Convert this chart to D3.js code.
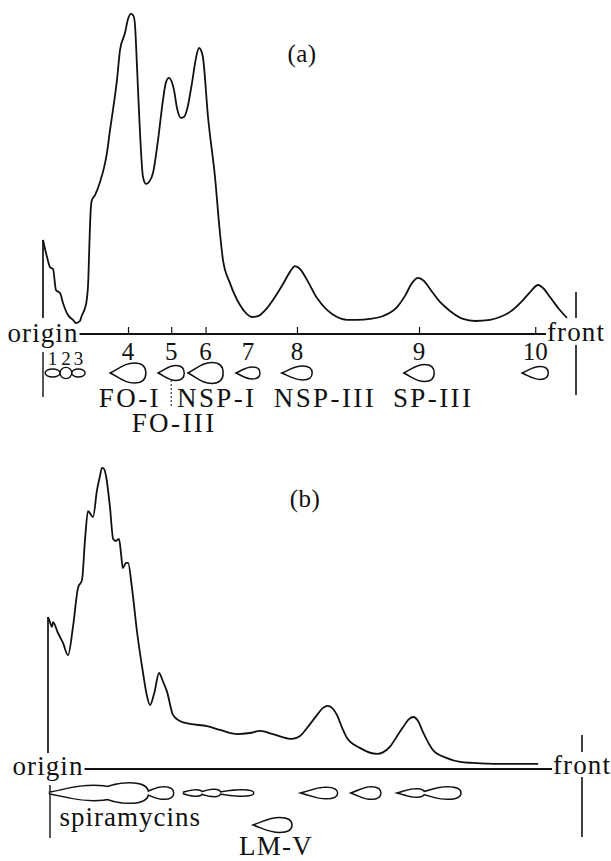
<!DOCTYPE html>
<html><head><meta charset="utf-8">
<script src="https://cdn.jsdelivr.net/npm/d3@7"></script>
<style>body{margin:0;background:#fff}svg{display:block}</style>
</head><body>
<svg id="c" width="611" height="861"></svg>
<script>
// ---------- DATA ----------
// Panel (a): densitogram, distance from origin (% of origin→front) and absorbance (arb. units)
const distA = [0,0.75,1.31,1.88,2.44,3.19,3.75,4.69,5.63,6.19,6.94,7.2,7.88,8.2,8.5,8.69,8.95,9.14,9.76,10.7,
  11.44,12.0,12.57,13.13,13.88,14.45,15.38,15.95,16.51,16.98,17.26,17.64,18.2,18.76,19.32,19.89,20.64,21.58,22.51,23.08,
  23.64,24.1,24.58,25.14,25.89,26.45,27.0,27.95,28.7,29.27,29.64,30.0,30.96,32.27,33.2,33.77,35.08,36.96,38.27,39.21,
  40.34,42.03,43.53,45.03,46.34,47.28,48.22,49.53,51.41,53.28,55.16,57.04,58.91,61.35,63.79,66.42,67.92,69.23,70.36,71.48,
  72.61,74.48,76.36,78.8,81.05,83.86,85.74,87.62,90.06,91.56,92.87,94.0,95.12,96.81,98.31];
const absA = [29.1,23.75,20.6,20.0,13.4,12.5,9.4,5.6,4.1,3.1,3.75,5.1,7.8,10.3,16.6,27.0,38.4,41.3,43.1,47.2,
  51.6,56.3,63.4,69.7,79.1,88.4,93.75,98.1,99.7,99.1,96.25,83.1,62.5,48.75,46.6,47.2,50,60.3,72.8,78.4,
  79.7,78.75,75.9,70.3,67.2,67.5,69.7,78.1,85.9,89.1,88.4,86.25,67.5,48.75,31.25,22.8,15.6,8.75,5.9,5.0,
  5.3,7.8,11.25,15.3,19.1,20.9,20.0,16.6,10.9,7.2,5.0,4.1,4.1,4.4,5.3,8.1,11.6,15.6,17.2,16.25,
  13.75,9.7,6.9,4.4,3.75,4.1,5.0,6.6,10.3,13.1,15.0,13.75,11.25,7.5,4.7];

// Panel (b)
const distB = [0,0.37,0.75,0.94,1.87,2.81,3.75,4.68,5.62,6.37,6.93,7.49,8.43,9.18,9.74,10.1,10.5,10.9,11.6,12.2,
  12.7,13.3,13.7,14.0,14.6,15.0,15.7,16.7,17.8,18.5,19.1,19.9,20.8,21.5,22.3,23.4,24.7,26.6,29.8,32.2,
  35.4,37.8,39.7,42.1,45.7,47.2,48.5,50.4,51.5,52.4,53.4,54.1,55.1,56.0,58.4,61.6,64.0,65.5,66.5,67.6,
  68.4,69.3,70.2,72.1,74.7,77.2,79.6,84.6,91.8];
const absB = [47.5,45.9,44.4,45.9,42.5,39.4,35.6,44.4,56.6,59.1,71.6,80.6,78.75,87.2,91.6,94.1,93.75,91.25,81.9,71.9,
  71.25,71.9,66.9,62.8,64.4,64.4,56.9,42.5,30,23.1,20,23.75,30,27.5,24.1,16.9,15,14.1,13.4,12.2,
  10.9,11.25,11.9,10.9,9.4,10.3,12.8,16.9,19.1,19.7,18.75,16.9,12.8,9.7,6.6,4.7,6.9,10.6,13.1,15.6,
  16.25,15.0,11.6,5.9,3.4,2.2,1.9,1.6,1.6];

// TLC spots: [start, end, width] in the same distance units
const spotNumA = ["1","2","3","4","5","6","7","8","9","10"];
const spotsA = [[0.4,3.2,1.5],[3.2,5.4,2.1],[5.4,7.9,1.5],[12.6,19.3,3.75],[21.6,26.5,2.8],
  [27.2,33.8,3.9],[36.2,40.7,2.25],[44.8,50.5,2.6],[67.7,73.4,3.2],[89.9,94.8,2.4]];
const ellipseSpotsA = ["1","2","3"];
const tickSpotsA = ["4","5","6","8","9","10"];
const namesA = ["FO-I","NSP-I","NSP-III","SP-III","FO-III"];
const namePosA = [16.3,32.6,52.9,73.2,24.6];
const nameRowA = [0,0,0,0,1];

const spotsB = [[0.19,12.5,2.6],[7.9,18.7,3.6],[18.2,23.4,2.1],[25.3,28.8,0.94],[28.5,32.2,1.1],[31.8,38.4,0.94],
  [47.8,54.1,1.9],[57.1,62.2,2.1],[65.9,70.4,1.3],[69.9,77.2,2.1]];
const spotLMV = [38.4,45.7,2.8];
const namesB = ["spiramycins","LM-V"];
const namePosB = [15.4,42.7];

// ---------- DRAW ----------
const svg = d3.select("#c");
const serif = "'Liberation Serif','Times New Roman',serif";

function drop(x0,x1,cy,h){
  const w=x1-x0, r=h/2, p=d3.path();
  p.moveTo(x0,cy);
  p.bezierCurveTo(x0+0.3*w,cy-0.55*r, x0+0.42*w,cy-r, x0+0.68*w,cy-r);
  p.bezierCurveTo(x0+0.9*w,cy-r, x1,cy-0.6*r, x1,cy);
  p.bezierCurveTo(x1,cy+0.6*r, x0+0.9*w,cy+r, x0+0.68*w,cy+r);
  p.bezierCurveTo(x0+0.42*w,cy+r, x0+0.3*w,cy+0.55*r, x0,cy);
  p.closePath();
  return p.toString();
}
function txt(x,y,s,size,ls,anchor){
  return svg.append("text").attr("x",x).attr("y",y).text(s)
    .attr("font-family",serif).attr("font-size",size).attr("fill","#111")
    .attr("text-anchor",anchor||"middle").style("letter-spacing",ls+"px");
}
function vline(x,y1,y2,w,dash){
  const l=svg.append("line").attr("x1",x).attr("x2",x).attr("y1",y1).attr("y2",y2)
    .attr("stroke","#111").attr("stroke-width",w||1.5);
  if(dash) l.attr("stroke-dasharray",dash);
  return l;
}

function panel(o){
  const x=o.x, y=o.y;
  const pts=o.dist.map((d,i)=>[x(d),y(o.abs[i])]);
  svg.append("path").attr("d",d3.line().curve(d3.curveMonotoneX)(pts))
    .attr("fill","none").attr("stroke","#111").attr("stroke-width",1.8).attr("stroke-linejoin","round");
  vline(x(0),y(o.abs[0]),y(0)-o.gapTop,1.7);
  const base=y(0)+o.baseOff;
  const to=txt(x(0),base+o.textDy,"origin",27,1.1);
  const tf=txt(x(100),base+o.textDy-1,"front",27,1.1);
  const bo=to.node().getBBox(), bf=tf.node().getBBox();
  svg.append("line").attr("x1",bo.x+bo.width+1).attr("x2",bf.x-1).attr("y1",base).attr("y2",base)
    .attr("stroke","#111").attr("stroke-width",1.8);
  vline(x(100),base-o.frontUp[0],base-o.frontUp[1],1.6);
  vline(x(100),base+o.frontDn[0],base+o.frontDn[1],1.6);
  vline(x(0)+o.obx,base+o.originDn[0],base+o.originDn[1],1.4);
  return base;
}

// Panel (a)
const xA=d3.scaleLinear().domain([0,100]).range([43,576]);
const yA=d3.scaleLinear().domain([0,100]).range([333,13]);
const baseA=panel({x:xA,y:yA,dist:distA,abs:absA,gapTop:15,baseOff:1,textDy:8,
  frontUp:[42,16],frontDn:[11,61],originDn:[18,63],obx:0});
txt(302,62,"(a)",25,0.5);
const kA=xA(1)-xA(0);
const cyA=baseA+39;
const ticks=svg.append("g").attr("transform",`translate(0,${baseA})`)
  .call(d3.axisBottom(xA).tickValues(tickSpotsA.map(n=>{const s=spotsA[spotNumA.indexOf(n)];return (s[0]+s[1])/2;}))
    .tickSizeInner(-7).tickSizeOuter(0).tickFormat(""));
ticks.select(".domain").remove();
ticks.selectAll("line").attr("stroke","#111").attr("stroke-width",1.2);
spotsA.forEach((s,i)=>{
  const n=spotNumA[i], x0=xA(s[0]), x1=xA(s[1]), h=s[2]*kA;
  if(ellipseSpotsA.includes(n)){
    svg.append("ellipse").attr("cx",(x0+x1)/2).attr("cy",cyA).attr("rx",(x1-x0)/2).attr("ry",h/2)
      .attr("fill","#fff").attr("stroke","#111").attr("stroke-width",1.4);
    txt((x0+x1)/2,baseA+31,n,19,0);
  } else {
    svg.append("path").attr("d",drop(x0,x1,cyA,h)).attr("fill","#fff").attr("stroke","#111").attr("stroke-width",1.5);
    txt((x0+x1)/2,baseA+26,n,25,0);
  }
});
{const s=spotsA[spotNumA.indexOf("5")]; vline(xA((s[0]+s[1])/2),cyA+7,cyA+35,1,"2,2");}
namesA.forEach((n,i)=>txt(xA(namePosA[i]),baseA+73+nameRowA[i]*25,n,27,2.4));

// Panel (b)
const xB=d3.scaleLinear().domain([0,100]).range([48,582]);
const yB=d3.scaleLinear().domain([0,100]).range([769,449]);
const baseB=panel({x:xB,y:yB,dist:distB,abs:absB,gapTop:16,baseOff:0,textDy:6,
  frontUp:[34,17],frontDn:[8,68],originDn:[16,69],obx:2});
txt(305,507,"(b)",25,0.5);
const kB=xB(1)-xB(0);
const cyB=baseB+24;
const gB=svg.append("g");
const shapesB=spotsB.map(s=>drop(xB(s[0]),xB(s[1]),cyB,s[2]*kB));
gB.selectAll("path.s").data(shapesB).join("path").attr("class","s").attr("d",d=>d)
  .attr("fill","none").attr("stroke","#111").attr("stroke-width",3);
gB.selectAll("path.f").data(shapesB).join("path").attr("class","f").attr("d",d=>d)
  .attr("fill","#fff").attr("stroke","none");
svg.append("path").attr("d",drop(xB(spotLMV[0]),xB(spotLMV[1]),baseB+56,spotLMV[2]*kB))
  .attr("fill","#fff").attr("stroke","#111").attr("stroke-width",1.5);
txt(xB(namePosB[0]),baseB+57,namesB[0],27,1.0);
txt(xB(namePosB[1]),baseB+86,namesB[1],27,1.3);
</script>
</body></html>
